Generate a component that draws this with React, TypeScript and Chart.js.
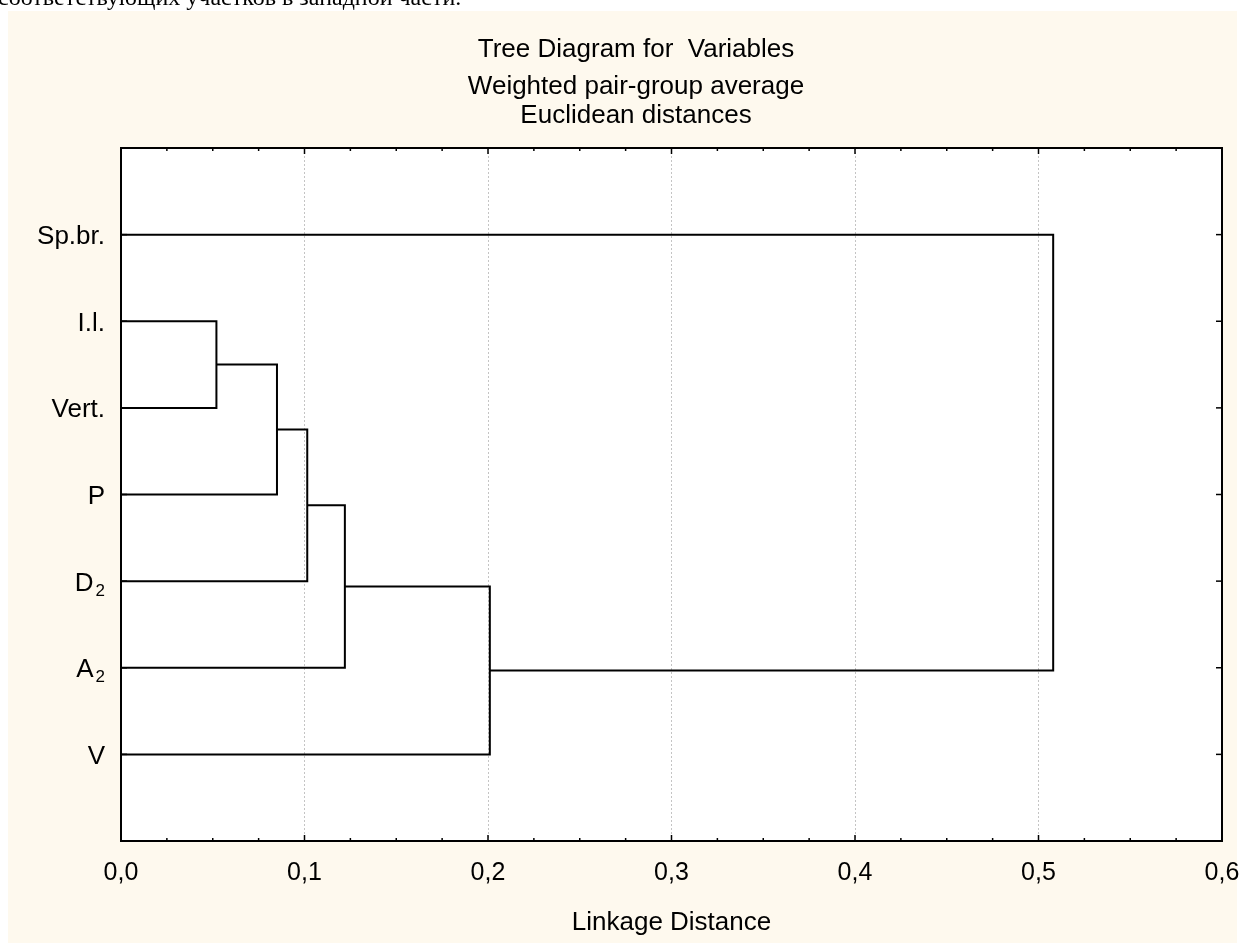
import React, { useEffect, useRef } from 'react';
import { Chart, registerables } from 'chart.js';

Chart.register(...registerables);

// ---- data ----
const leafLabels = ['Sp.br.', 'I.l.', 'Vert.', 'P', 'D_2', 'A_2', 'V'];
// cluster indices: leaves 0..6, merge i creates node 7+i
const mergeLeft = [1, 7, 8, 9, 10, 0];
const mergeRight = [2, 3, 4, 5, 6, 11];
const mergeHeight = [0.052, 0.085, 0.1015, 0.122, 0.201, 0.508];
const xTickValues = [0, 0.1, 0.2, 0.3, 0.4, 0.5, 0.6];
const titleLine = 'Tree Diagram for  Variables';
const subtitleLines = ['Weighted pair-group average', 'Euclidean distances'];
const xAxisTitle = 'Linkage Distance';
const pageText = 'соответствующих участков в западной части.';

const FONT = 'Arial, "Liberation Sans", sans-serif';
const BG = '#fef9ee';
const PANEL_W = 1229;

function buildLinks() {
  const nodeY: number[] = leafLabels.map((_, i) => i + 1);
  const nodeH: number[] = leafLabels.map(() => 0);
  const sets: any[] = [];
  mergeHeight.forEach((h, i) => {
    const a = mergeLeft[i];
    const b = mergeRight[i];
    sets.push({
      label: 'link' + i,
      data: [
        { x: nodeH[a], y: nodeY[a] },
        { x: h, y: nodeY[a] },
        { x: h, y: nodeY[b] },
        { x: nodeH[b], y: nodeY[b] },
      ],
      showLine: true,
      borderColor: '#000',
      borderWidth: 2,
      pointRadius: 0,
      tension: 0,
      borderJoinStyle: 'miter',
    });
    nodeY.push((nodeY[a] + nodeY[b]) / 2);
    nodeH.push(h);
  });
  return sets;
}

const decor = {
  id: 'decor',
  beforeDraw(chart: any) {
    const { ctx, height, chartArea: a } = chart;
    ctx.save();
    ctx.fillStyle = BG;
    ctx.fillRect(0, 0, PANEL_W, height);
    ctx.fillStyle = '#ffffff';
    ctx.fillRect(a.left, a.top, a.right - a.left, a.bottom - a.top);
    ctx.restore();
  },
  afterDatasetsDraw(chart: any) {
    const { ctx, chartArea: a, scales } = chart;
    const xs = scales.x;
    const ys = scales.y;
    ctx.save();
    ctx.strokeStyle = '#000';
    ctx.lineWidth = 1.5;
    const seg = (x1: number, y1: number, x2: number, y2: number) => {
      ctx.beginPath();
      ctx.moveTo(x1, y1);
      ctx.lineTo(x2, y2);
      ctx.stroke();
    };
    // inward x ticks (major + 3 minor between)
    const step = xTickValues[1] - xTickValues[0];
    for (let k = 0; k < xTickValues.length; k++) {
      const v0 = xTickValues[k];
      const px = xs.getPixelForValue(v0);
      seg(px, a.top, px, a.top + 6);
      seg(px, a.bottom, px, a.bottom - 6);
      if (k < xTickValues.length - 1) {
        for (let m = 1; m < 4; m++) {
          const pm = xs.getPixelForValue(v0 + (step * m) / 4);
          seg(pm, a.top, pm, a.top + 3);
          seg(pm, a.bottom, pm, a.bottom - 3);
        }
      }
    }
    // inward y ticks
    leafLabels.forEach((_, i) => {
      const py = ys.getPixelForValue(i + 1);
      seg(a.left, py, a.left + 6, py);
      seg(a.right - 6, py, a.right, py);
    });
    // frame
    ctx.lineWidth = 2;
    ctx.strokeRect(a.left, a.top, a.right - a.left, a.bottom - a.top);

    // leaf labels with subscripts
    ctx.fillStyle = '#000';
    ctx.textBaseline = 'alphabetic';
    leafLabels.forEach((lab, i) => {
      const py = ys.getPixelForValue(i + 1);
      const parts = lab.split('_');
      const main = parts[0];
      const sub = parts[1] || '';
      const right = a.left - 16;
      ctx.font = '26px ' + FONT;
      const w1 = ctx.measureText(main).width;
      ctx.font = '17px ' + FONT;
      const w2 = sub ? ctx.measureText(sub).width + 2 : 0;
      ctx.font = '26px ' + FONT;
      ctx.textAlign = 'left';
      ctx.fillText(main, right - w2 - w1, py + 9.5);
      if (sub) {
        ctx.font = '17px ' + FONT;
        ctx.fillText(sub, right - w2 + 2, py + 14.5);
      }
    });
    ctx.restore();
  },
};

export default function App() {
  const ref = useRef<HTMLCanvasElement>(null);
  useEffect(() => {
    const chart = new Chart(ref.current as HTMLCanvasElement, {
      type: 'scatter',
      data: { datasets: buildLinks() },
      options: {
        animation: false,
        responsive: false,
        events: [],
        layout: { autoPadding: false, padding: { left: 42, right: 23, top: 0, bottom: 0 } },
        plugins: {
          legend: { display: false },
          tooltip: { enabled: false },
          title: {
            display: true,
            text: titleLine,
            color: '#000',
            font: { family: FONT, size: 26, weight: 'normal', lineHeight: 1 },
            padding: { top: 26, bottom: 0 },
          },
          subtitle: {
            display: true,
            text: subtitleLines,
            color: '#000',
            font: { family: FONT, size: 26, weight: 'normal', lineHeight: 29 / 26 },
            padding: { top: 9.5, bottom: 17.5 },
          },
        },
        scales: {
          x: {
            type: 'linear',
            min: 0,
            max: 0.6,
            afterFit: (s: any) => {
              s.height = 102;
              s.paddingLeft = 0;
              s.paddingRight = 0;
            },
            afterBuildTicks: (s: any) => { s.ticks = xTickValues.map((v) => ({ value: v })); },
            ticks: {
              stepSize: 0.1,
              autoSkip: false,
              maxRotation: 0,
              padding: 20,
              color: '#000',
              font: { family: FONT, size: 25, lineHeight: 1 },
              callback: (v: any) => Number(v).toFixed(1).replace('.', ','),
            },
            grid: {
              drawTicks: false,
              lineWidth: 1,
              color: (c: any) => (c.tick && (c.tick.value <= 0 || c.tick.value >= 0.6) ? 'rgba(0,0,0,0)' : '#c4c4c4'),
            },
            border: { display: false, dash: [2, 2] },
            title: {
              display: true,
              text: xAxisTitle,
              color: '#000',
              font: { family: FONT, size: 26, lineHeight: 1 },
              padding: { top: 0, bottom: 7 },
            },
          },
          y: {
            type: 'linear',
            min: 0,
            max: 8,
            reverse: true,
            afterFit: (s: any) => { s.width = 71; },
            ticks: { display: false },
            grid: { display: false },
            border: { display: false },
          },
        },
      },
      plugins: [decor],
    } as any);
    return () => chart.destroy();
  }, []);

  return (
    <>
      <div
        style={{
          position: 'fixed',
          left: -2,
          top: -15,
          font: '24px "Liberation Serif", "Times New Roman", serif',
          lineHeight: '24px',
          whiteSpace: 'nowrap',
          color: '#000',
        }}
      >
        {pageText}
      </div>
      <div style={{ position: 'fixed', left: 8, top: 11, width: 1237, height: 932 }}>
        <canvas ref={ref} width={1237} height={932} style={{ display: 'block', width: 1237, height: 932 }} />
      </div>
    </>
  );
}
